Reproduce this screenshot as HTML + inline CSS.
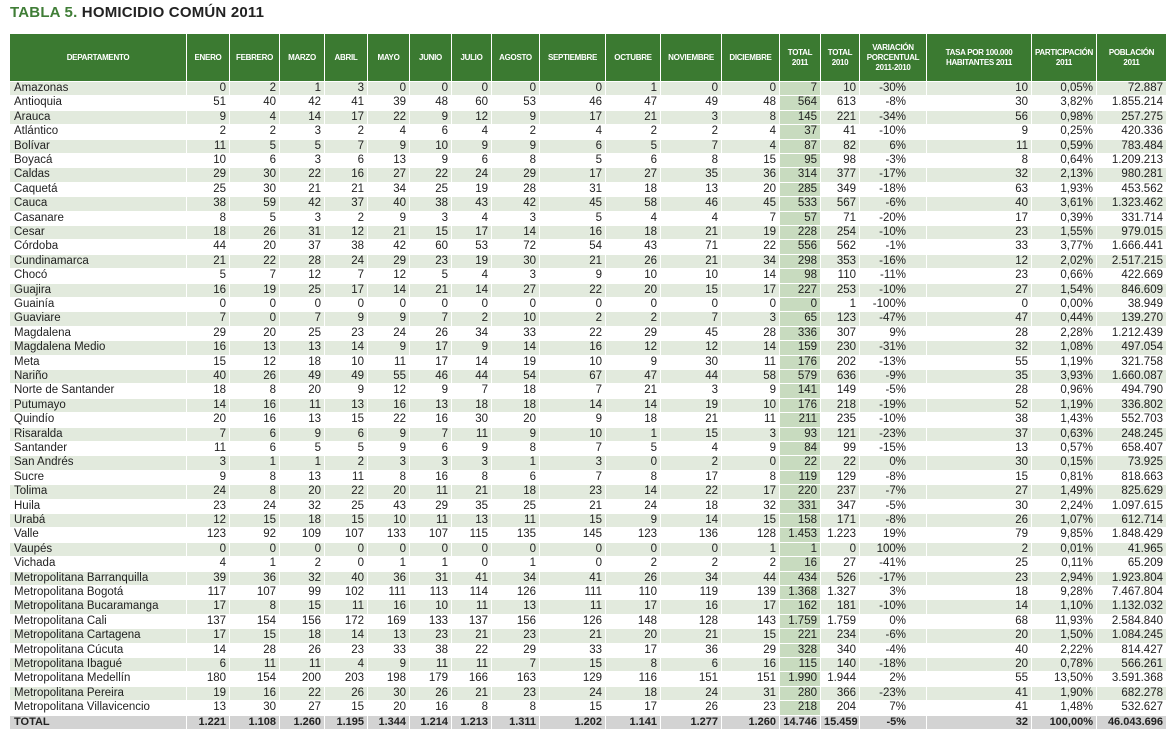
<!DOCTYPE html>
<html><head><meta charset="utf-8">
<style>
body{margin:0;width:1173px;height:738px;background:#fff;overflow:hidden;font-family:"Liberation Sans",sans-serif;position:relative}
#title{position:absolute;left:10px;top:4px;font-size:15px;font-weight:bold;color:#222;letter-spacing:0.2px}
#title span{color:#3f7d36}
.row{position:absolute;left:10px;width:1157px;display:flex}
.c{box-sizing:border-box;flex:none;border-right:1px solid #fff;border-bottom:1px solid #fff;overflow:hidden;white-space:nowrap}
.hd .c{background:#3b7a31;color:#fff;font-size:8px;font-weight:bold;height:48px;display:flex;align-items:center;justify-content:center;text-align:center;line-height:10px;letter-spacing:-0.3px;padding:0 2px}
.dr .c{font-size:11.5px;height:100%;line-height:13px;padding:0 3px;text-align:right;color:#222}
.dr .c:first-child{text-align:left;padding-left:4px}
.odd .c{background:#e2eadd}
.even .c{background:#fff}
.dr .c.t11{background:#c8dbbf}
.dr .c.var{padding-right:20px}
.total .c{background:#d3d3d3 !important;font-weight:bold;font-size:11px}
</style></head><body>
<div id="title"><span>TABLA 5.</span> HOMICIDIO COMÚN 2011</div>
<div id="tbl"></div>
<script>
const widths=[177,43,50,45,43,42,42,40,48,66,55,61,58,41,39,67,105,65,70];
const headers=["DEPARTAMENTO","ENERO","FEBRERO","MARZO","ABRIL","MAYO","JUNIO","JULIO","AGOSTO","SEPTIEMBRE","OCTUBRE","NOVIEMBRE","DICIEMBRE","TOTAL<br>2011","TOTAL<br>2010","VARIACIÓN<br>PORCENTUAL<br>2011-2010","TASA POR 100.000<br>HABITANTES 2011","PARTICIPACIÓN<br>2011","POBLACIÓN<br>2011"];
const rows = [
"Amazonas|0 2 1 3 0 0 0 0 0 1 0 0|7 10 -30% 10 0,05% 72.887",
"Antioquia|51 40 42 41 39 48 60 53 46 47 49 48|564 613 -8% 30 3,82% 1.855.214",
"Arauca|9 4 14 17 22 9 12 9 17 21 3 8|145 221 -34% 56 0,98% 257.275",
"Atlántico|2 2 3 2 4 6 4 2 4 2 2 4|37 41 -10% 9 0,25% 420.336",
"Bolívar|11 5 5 7 9 10 9 9 6 5 7 4|87 82 6% 11 0,59% 783.484",
"Boyacá|10 6 3 6 13 9 6 8 5 6 8 15|95 98 -3% 8 0,64% 1.209.213",
"Caldas|29 30 22 16 27 22 24 29 17 27 35 36|314 377 -17% 32 2,13% 980.281",
"Caquetá|25 30 21 21 34 25 19 28 31 18 13 20|285 349 -18% 63 1,93% 453.562",
"Cauca|38 59 42 37 40 38 43 42 45 58 46 45|533 567 -6% 40 3,61% 1.323.462",
"Casanare|8 5 3 2 9 3 4 3 5 4 4 7|57 71 -20% 17 0,39% 331.714",
"Cesar|18 26 31 12 21 15 17 14 16 18 21 19|228 254 -10% 23 1,55% 979.015",
"Córdoba|44 20 37 38 42 60 53 72 54 43 71 22|556 562 -1% 33 3,77% 1.666.441",
"Cundinamarca|21 22 28 24 29 23 19 30 21 26 21 34|298 353 -16% 12 2,02% 2.517.215",
"Chocó|5 7 12 7 12 5 4 3 9 10 10 14|98 110 -11% 23 0,66% 422.669",
"Guajira|16 19 25 17 14 21 14 27 22 20 15 17|227 253 -10% 27 1,54% 846.609",
"Guainía|0 0 0 0 0 0 0 0 0 0 0 0|0 1 -100% 0 0,00% 38.949",
"Guaviare|7 0 7 9 9 7 2 10 2 2 7 3|65 123 -47% 47 0,44% 139.270",
"Magdalena|29 20 25 23 24 26 34 33 22 29 45 28|336 307 9% 28 2,28% 1.212.439",
"Magdalena Medio|16 13 13 14 9 17 9 14 16 12 12 14|159 230 -31% 32 1,08% 497.054",
"Meta|15 12 18 10 11 17 14 19 10 9 30 11|176 202 -13% 55 1,19% 321.758",
"Nariño|40 26 49 49 55 46 44 54 67 47 44 58|579 636 -9% 35 3,93% 1.660.087",
"Norte de Santander|18 8 20 9 12 9 7 18 7 21 3 9|141 149 -5% 28 0,96% 494.790",
"Putumayo|14 16 11 13 16 13 18 18 14 14 19 10|176 218 -19% 52 1,19% 336.802",
"Quindío|20 16 13 15 22 16 30 20 9 18 21 11|211 235 -10% 38 1,43% 552.703",
"Risaralda|7 6 9 6 9 7 11 9 10 1 15 3|93 121 -23% 37 0,63% 248.245",
"Santander|11 6 5 5 9 6 9 8 7 5 4 9|84 99 -15% 13 0,57% 658.407",
"San Andrés|3 1 1 2 3 3 3 1 3 0 2 0|22 22 0% 30 0,15% 73.925",
"Sucre|9 8 13 11 8 16 8 6 7 8 17 8|119 129 -8% 15 0,81% 818.663",
"Tolima|24 8 20 22 20 11 21 18 23 14 22 17|220 237 -7% 27 1,49% 825.629",
"Huila|23 24 32 25 43 29 35 25 21 24 18 32|331 347 -5% 30 2,24% 1.097.615",
"Urabá|12 15 18 15 10 11 13 11 15 9 14 15|158 171 -8% 26 1,07% 612.714",
"Valle|123 92 109 107 133 107 115 135 145 123 136 128|1.453 1.223 19% 79 9,85% 1.848.429",
"Vaupés|0 0 0 0 0 0 0 0 0 0 0 1|1 0 100% 2 0,01% 41.965",
"Vichada|4 1 2 0 1 1 0 1 0 2 2 2|16 27 -41% 25 0,11% 65.209",
"Metropolitana Barranquilla|39 36 32 40 36 31 41 34 41 26 34 44|434 526 -17% 23 2,94% 1.923.804",
"Metropolitana Bogotá|117 107 99 102 111 113 114 126 111 110 119 139|1.368 1.327 3% 18 9,28% 7.467.804",
"Metropolitana Bucaramanga|17 8 15 11 16 10 11 13 11 17 16 17|162 181 -10% 14 1,10% 1.132.032",
"Metropolitana Cali|137 154 156 172 169 133 137 156 126 148 128 143|1.759 1.759 0% 68 11,93% 2.584.840",
"Metropolitana Cartagena|17 15 18 14 13 23 21 23 21 20 21 15|221 234 -6% 20 1,50% 1.084.245",
"Metropolitana Cúcuta|14 28 26 23 33 38 22 29 33 17 36 29|328 340 -4% 40 2,22% 814.427",
"Metropolitana Ibagué|6 11 11 4 9 11 11 7 15 8 6 16|115 140 -18% 20 0,78% 566.261",
"Metropolitana Medellín|180 154 200 203 198 179 166 163 129 116 151 151|1.990 1.944 2% 55 13,50% 3.591.368",
"Metropolitana Pereira|19 16 22 26 30 26 21 23 24 18 24 31|280 366 -23% 41 1,90% 682.278",
"Metropolitana Villavicencio|13 30 27 15 20 16 8 8 15 17 26 23|218 204 7% 41 1,48% 532.627",
"TOTAL|1.221 1.108 1.260 1.195 1.344 1.214 1.213 1.311 1.202 1.141 1.277 1.260|14.746 15.459 -5% 32 100,00% 46.043.696"
];
const tbl=document.getElementById('tbl');
const hd=document.createElement('div');
hd.className='row hd';
hd.style.top='34px';


headers.forEach((h,j)=>{
  const c=document.createElement('div');
  c.className='c';
  c.style.width=widths[j]+'px';
  c.innerHTML=h;
  
  
  hd.appendChild(c);
});
tbl.appendChild(hd);
const top0=82, rh=(730-82)/rows.length;
rows.forEach((r,i)=>{
  const [name,months,rest]=r.split('|');
  const tr=document.createElement('div');
  const isTotal=name==='TOTAL';
  tr.className='row dr '+(isTotal?'total':(i%2===0?'odd':'even'));
  tr.style.top=(top0+i*rh)+'px';
  tr.style.height=rh+'px';
  
  
  const cells=[name].concat(months.split(' '),rest.split(' '));
  cells.forEach((v,j)=>{
    const td=document.createElement('div');
    td.className='c'+(j===13?' t11':'')+(j===15?' var':'');
    td.style.width=widths[j]+'px';
    td.textContent=v;
    
    
    tr.appendChild(td);
  });
  tbl.appendChild(tr);
});
</script>
</body></html>
